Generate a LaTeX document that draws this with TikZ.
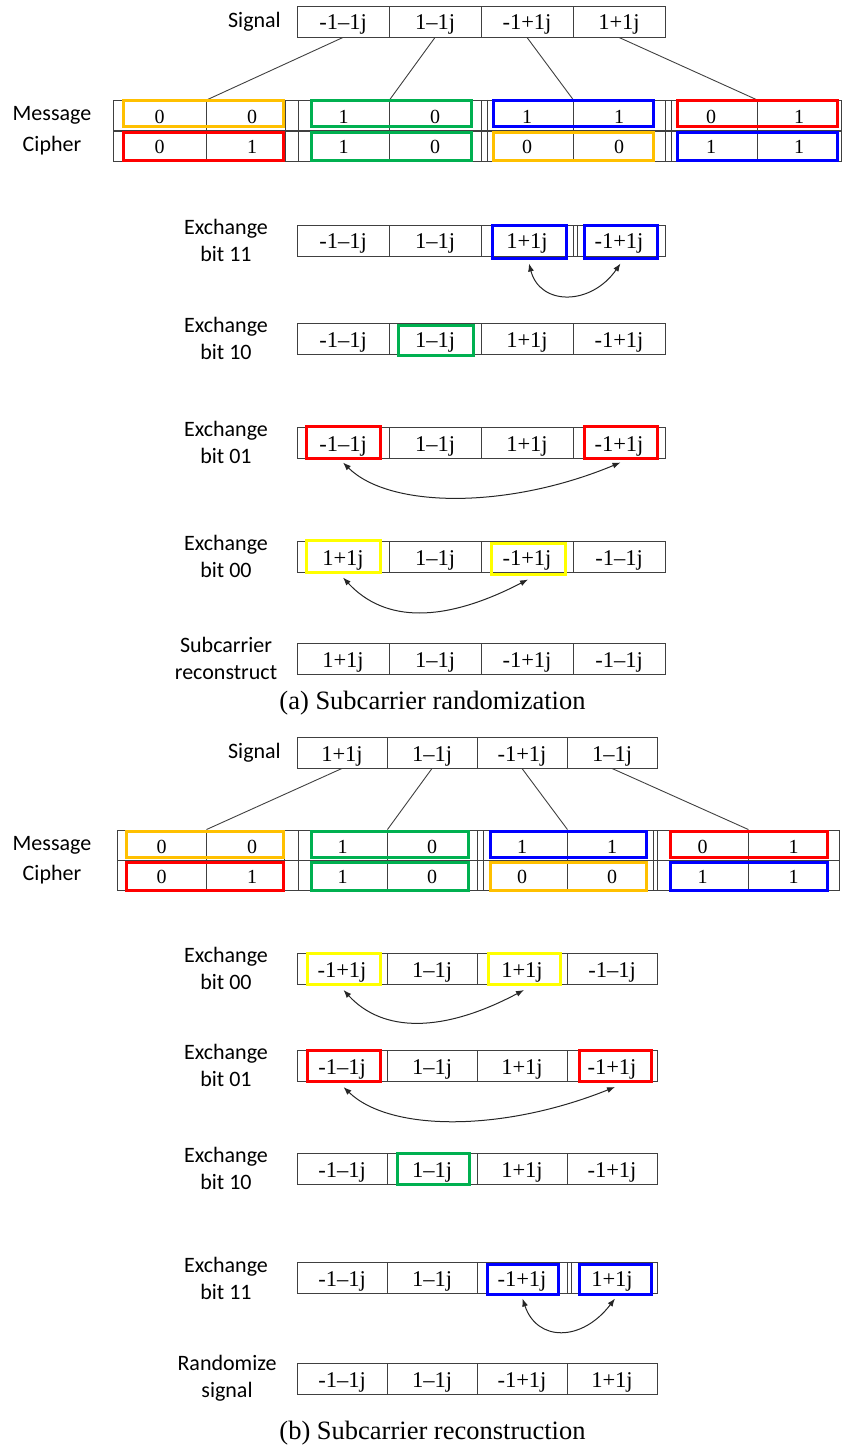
\documentclass[tikz,border=0pt]{standalone}
\usepackage{fontspec}
\setmainfont{Liberation Serif}
\newfontfamily\sigfont{Carlito}
\usetikzlibrary{arrows.meta}
\definecolor{hlorange}{RGB}{255,192,0}
\definecolor{hlgreen}{RGB}{0,176,80}
\definecolor{hlblue}{RGB}{0,0,255}
\definecolor{hlred}{RGB}{255,0,0}
\definecolor{hlyellow}{RGB}{255,255,0}
\tikzset{
  cell/.style={draw=black!75, line width=0.9pt, minimum width=#1, minimum height=31pt, inner sep=0pt, text height=23pt, text depth=6pt, font=\fontsize{22.5}{26}\selectfont},
  cell/.default=92pt,
  bitcell/.style={draw=black!75, line width=0.9pt, minimum width=#1, minimum height=30pt, inner sep=0pt, text height=21pt, text depth=5pt, font=\fontsize{20}{24}\selectfont},
  hibox/.style={draw=#1, line width=3pt, inner sep=0pt},
  lab/.style={font=\sigfont\fontsize{22}{27}\selectfont, align=center, inner sep=0pt},
  capt/.style={font=\fontsize{26.5}{30}\selectfont, inner sep=0pt},
  link/.style={black!75, line width=0.9pt},
  swap/.style={{Latex[length=8pt,width=6pt]}-{Latex[length=8pt,width=6pt]}, black!85, line width=1pt},
}
\begin{document}
\begin{tikzpicture}[x=1pt, y=-1pt]
    \useasboundingbox (0,0) rectangle (844,1447);

    %(a) Subcarrier randomization
    \node[lab, anchor=east] (sigA) at (281,21.5) {Signal};
    \path (343,21.5) node[cell] (sA1) {-1–1j} (435,21.5) node[cell] (sA2) {1–1j} (527,21.5) node[cell] (sA3) {-1+1j} (619,21.5) node[cell] (sA4) {1+1j};

    %Message / Cipher
    \node[lab] (msgA) at (52,115.5) {Message};
    \node[lab] (ciphA) at (52,146) {Cipher};
    \path (159.5,115.5) node[bitcell=93pt] (mA1) {0} (252,115.5) node[bitcell=92pt] (mA2) {0} (343.5,115.5) node[bitcell=91pt] (mA3) {1} (435,115.5) node[bitcell=92pt] (mA4) {0}
          (527,115.5) node[bitcell=92pt] (mA5) {1} (619,115.5) node[bitcell=92pt] (mA6) {1} (711,115.5) node[bitcell=92pt] (mA7) {0} (799,115.5) node[bitcell=84pt] (mA8) {1};
    \path (159.5,146) node[bitcell=93pt] (cA1) {0} (252,146) node[bitcell=92pt] (cA2) {1} (343.5,146) node[bitcell=91pt] (cA3) {1} (435,146) node[bitcell=92pt] (cA4) {0}
          (527,146) node[bitcell=92pt] (cA5) {0} (619,146) node[bitcell=92pt] (cA6) {0} (711,146) node[bitcell=92pt] (cA7) {1} (799,146) node[bitcell=84pt] (cA8) {1};
    \draw[link] (285,100) -- (285,161) (487,100) -- (487,161) (671,100) -- (671,161);
    \draw[link] (sA1.south) -- (mA1.north east);
    \draw[link] (sA2.south) -- (mA3.north east);
    \draw[link] (sA3.south) -- (mA5.north east);
    \draw[link] (sA4.south) -- (mA7.north east);
    \node[hibox=hlorange, minimum width=160pt, minimum height=26pt] (hmA1) at (203,114) {};
    \node[hibox=hlgreen, minimum width=160pt, minimum height=26pt] (hmA2) at (391,114) {};
    \node[hibox=hlblue, minimum width=160pt, minimum height=26pt] (hmA3) at (573,114) {};
    \node[hibox=hlred, minimum width=160pt, minimum height=26pt] (hmA4) at (757,114) {};
    \node[hibox=hlred, minimum width=160pt, minimum height=28pt] (hcA1) at (203,146.5) {};
    \node[hibox=hlgreen, minimum width=160pt, minimum height=28pt] (hcA2) at (391,146.5) {};
    \node[hibox=hlorange, minimum width=160pt, minimum height=28pt] (hcA3) at (573,146.5) {};
    \node[hibox=hlblue, minimum width=160pt, minimum height=28pt] (hcA4) at (757,146.5) {};

    %Exchange bit 11
    \node[lab] (x11A) at (226,240.5) {Exchange\\bit 11};
    \path (343,240.5) node[cell] (e11A1) {-1–1j} (435,240.5) node[cell] (e11A2) {1–1j} (527,240.5) node[cell] (e11A3) {1+1j} (619,240.5) node[cell] (e11A4) {-1+1j};
    \draw[link] (577,225) -- (577,256);
    \node[hibox=hlblue, minimum width=74pt, minimum height=32pt] (h11A1) at (529,242) {};
    \node[hibox=hlblue, minimum width=73pt, minimum height=32pt] (h11A2) at (620.5,242) {};
    \draw[swap] ([yshift=-4pt]h11A1.south) .. controls (540,306) and (591,306) .. ([yshift=-4pt]h11A2.south);

    %Exchange bit 10
    \node[lab] (x10A) at (226,338.5) {Exchange\\bit 10};
    \path (343,338.5) node[cell] (e10A1) {-1–1j} (435,338.5) node[cell] (e10A2) {1–1j} (527,338.5) node[cell] (e10A3) {1+1j} (619,338.5) node[cell] (e10A4) {-1+1j};
    \node[hibox=hlgreen, minimum width=75pt, minimum height=30pt] (h10A) at (435.5,340) {};

    %Exchange bit 01
    \node[lab] (x01A) at (226,442.5) {Exchange\\bit 01};
    \path (343,442.5) node[cell] (e01A1) {-1–1j} (435,442.5) node[cell] (e01A2) {1–1j} (527,442.5) node[cell] (e01A3) {1+1j} (619,442.5) node[cell] (e01A4) {-1+1j};
    \node[hibox=hlred, minimum width=74pt, minimum height=32pt] (h01A1) at (343,442) {};
    \node[hibox=hlred, minimum width=73pt, minimum height=32pt] (h01A2) at (620.5,442) {};
    \draw[swap] ([yshift=-3pt]h01A1.south) .. controls (390,509) and (509,509) .. ([yshift=-3pt]h01A2.south);

    %Exchange bit 00
    \node[lab] (x00A) at (226,556.5) {Exchange\\bit 00};
    \path (343,556.5) node[cell] (e00A1) {1+1j} (435,556.5) node[cell] (e00A2) {1–1j} (527,556.5) node[cell] (e00A3) {-1+1j} (619,556.5) node[cell] (e00A4) {-1–1j};
    \node[hibox=hlyellow, minimum width=74pt, minimum height=32pt] (h00A1) at (343,556) {};
    \node[hibox=hlyellow, minimum width=74pt, minimum height=31pt] (h00A2) at (528,558.5) {};
    \draw[swap] ([yshift=-4pt]h00A1.south) .. controls (385,623) and (444,623) .. ([yshift=-4pt]h00A2.south);

    %Subcarrier reconstruct
    \node[lab] (recA) at (226,658.5) {Subcarrier\\reconstruct};
    \path (343,658.5) node[cell] (rA1) {1+1j} (435,658.5) node[cell] (rA2) {1–1j} (527,658.5) node[cell] (rA3) {-1+1j} (619,658.5) node[cell] (rA4) {-1–1j};
    \node[capt] (capA) at (432.5,703) {(a) Subcarrier randomization};

    %(b) Subcarrier reconstruction
    \node[lab, anchor=east] (sigB) at (281,752.5) {Signal};
    \path (342,752.5) node[cell=90pt] (sB1) {1+1j} (432,752.5) node[cell=90pt] (sB2) {1–1j} (522,752.5) node[cell=90pt] (sB3) {-1+1j} (612,752.5) node[cell=90pt] (sB4) {1–1j};

    %Message / Cipher
    \node[lab] (msgB) at (52,845) {Message};
    \node[lab] (ciphB) at (52,875) {Cipher};
    \path (161.5,845) node[bitcell=89pt] (mB1) {0} (252,845) node[bitcell=92pt] (mB2) {0} (342.5,845) node[bitcell=89pt] (mB3) {1} (432,845) node[bitcell=90pt] (mB4) {0}
          (522,845) node[bitcell=90pt] (mB5) {1} (612,845) node[bitcell=90pt] (mB6) {1} (702.5,845) node[bitcell=91pt] (mB7) {0} (793.5,845) node[bitcell=91pt] (mB8) {1};
    \path (161.5,875) node[bitcell=89pt] (cB1) {0} (252,875) node[bitcell=92pt] (cB2) {1} (342.5,875) node[bitcell=89pt] (cB3) {1} (432,875) node[bitcell=90pt] (cB4) {0}
          (522,875) node[bitcell=90pt] (cB5) {0} (612,875) node[bitcell=90pt] (cB6) {0} (702.5,875) node[bitcell=91pt] (cB7) {1} (793.5,875) node[bitcell=91pt] (cB8) {1};
    \draw[link] (284,830) -- (284,890) (483,830) -- (483,890) (653,830) -- (653,890);
    \draw[link] (sB1.south) -- (mB1.north east);
    \draw[link] (sB2.south) -- (mB3.north east);
    \draw[link] (sB3.south) -- (mB5.north east);
    \draw[link] (sB4.south) -- (mB7.north east);
    \node[hibox=hlorange, minimum width=157pt, minimum height=26pt] (hmB1) at (204.5,844) {};
    \node[hibox=hlgreen, minimum width=157pt, minimum height=26pt] (hmB2) at (389.5,844) {};
    \node[hibox=hlblue, minimum width=156pt, minimum height=26pt] (hmB3) at (568,844) {};
    \node[hibox=hlred, minimum width=157pt, minimum height=26pt] (hmB4) at (748.5,844) {};
    \node[hibox=hlred, minimum width=157pt, minimum height=28pt] (hcB1) at (204.5,876) {};
    \node[hibox=hlgreen, minimum width=157pt, minimum height=28pt] (hcB2) at (389.5,876) {};
    \node[hibox=hlorange, minimum width=156pt, minimum height=28pt] (hcB3) at (568,876) {};
    \node[hibox=hlblue, minimum width=157pt, minimum height=28pt] (hcB4) at (748.5,876) {};

    %Exchange bit 00
    \node[lab] (x00B) at (226,968.5) {Exchange\\bit 00};
    \path (342,968.5) node[cell=90pt] (e00B1) {-1+1j} (432,968.5) node[cell=90pt] (e00B2) {1–1j} (522,968.5) node[cell=90pt] (e00B3) {1+1j} (612,968.5) node[cell=90pt] (e00B4) {-1–1j};
    \node[hibox=hlyellow, minimum width=73pt, minimum height=31pt] (h00B1) at (343.5,969) {};
    \node[hibox=hlyellow, minimum width=72pt, minimum height=31pt] (h00B2) at (524,969) {};
    \draw[swap] ([yshift=-4pt]h00B1.south) .. controls (383,1033) and (443,1033) .. ([yshift=-4pt]h00B2.south);

    %Exchange bit 01
    \node[lab] (x01B) at (226,1065.5) {Exchange\\bit 01};
    \path (342,1065.5) node[cell=90pt] (e01B1) {-1–1j} (432,1065.5) node[cell=90pt] (e01B2) {1–1j} (522,1065.5) node[cell=90pt] (e01B3) {1+1j} (612,1065.5) node[cell=90pt] (e01B4) {-1+1j};
    \node[hibox=hlred, minimum width=73pt, minimum height=31pt] (h01B1) at (343.5,1066) {};
    \node[hibox=hlred, minimum width=72pt, minimum height=31pt] (h01B2) at (615,1066) {};
    \draw[swap] ([yshift=-4pt]h01B1.south) .. controls (390,1132) and (503,1132) .. ([yshift=-4pt]h01B2.south);

    %Exchange bit 10
    \node[lab] (x10B) at (226,1168.5) {Exchange\\bit 10};
    \path (342,1168.5) node[cell=90pt] (e10B1) {-1–1j} (432,1168.5) node[cell=90pt] (e10B2) {1–1j} (522,1168.5) node[cell=90pt] (e10B3) {1+1j} (612,1168.5) node[cell=90pt] (e10B4) {-1+1j};
    \node[hibox=hlgreen, minimum width=72pt, minimum height=31pt] (h10B) at (433,1169) {};

    %Exchange bit 11
    \node[lab] (x11B) at (226,1278) {Exchange\\bit 11};
    \path (342,1278) node[cell=90pt] (e11B1) {-1–1j} (432,1278) node[cell=90pt] (e11B2) {1–1j} (522,1278) node[cell=90pt] (e11B3) {-1+1j} (612,1278) node[cell=90pt] (e11B4) {1+1j};
    \draw[link] (571,1263) -- (571,1293);
    \node[hibox=hlblue, minimum width=71pt, minimum height=30pt] (h11B1) at (522.5,1279) {};
    \node[hibox=hlblue, minimum width=72pt, minimum height=30pt] (h11B2) at (615,1279) {};
    \draw[swap] ([yshift=-3pt]h11B1.south) .. controls (537,1342) and (582,1342) .. ([yshift=-3pt]h11B2.south);

    %Randomize signal
    \node[lab] (rndB) at (227,1378.5) {Randomize\\signal};
    \path (342,1378.5) node[cell=90pt] (rB1) {-1–1j} (432,1378.5) node[cell=90pt] (rB2) {1–1j} (522,1378.5) node[cell=90pt] (rB3) {-1+1j} (612,1378.5) node[cell=90pt] (rB4) {1+1j};
    \node[capt] (capB) at (432.5,1433) {(b) Subcarrier reconstruction};
\end{tikzpicture}
\end{document}
